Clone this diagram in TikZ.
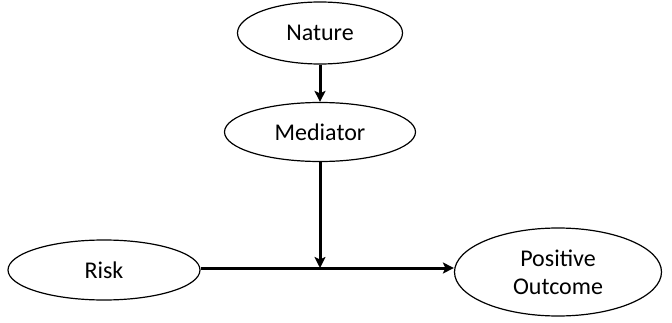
\documentclass[tikz,border=0pt]{standalone}
\usepackage{fontspec}
\setmainfont{Carlito}
\usetikzlibrary{shapes.geometric,arrows.meta}

\begin{document}
\begin{tikzpicture}[x=1pt,y=1pt]
    \tikzstyle{every node}=[ellipse, draw, line width=1.2pt, inner sep=0, font=\fontsize{24}{28}\selectfont, align=center]
    \tikzstyle{link}=[line width=3pt, -{Stealth[length=11pt,width=11pt,inset=2.5pt]}]
    % frame of the picture
    \useasboundingbox (0,0) rectangle (672,322);
    \node[minimum width=165, minimum height=62] (NAT) at (320,289) {Nature};
    \node[minimum width=191, minimum height=59] (MED) at (320,190) {Mediator};
    \node[minimum width=192, minimum height=60] (RSK) at (104,52) {Risk};
    \node[minimum width=207, minimum height=88] (OUT) at (558,50) {Positive\\Outcome};
    \coordinate (J) at (320,54);
    \draw[link] (NAT) -- (MED);
    \draw[link] (MED) -- (J);
    \draw[link] (RSK.east |- J) -- (OUT.west |- J);
\end{tikzpicture}
\end{document}
